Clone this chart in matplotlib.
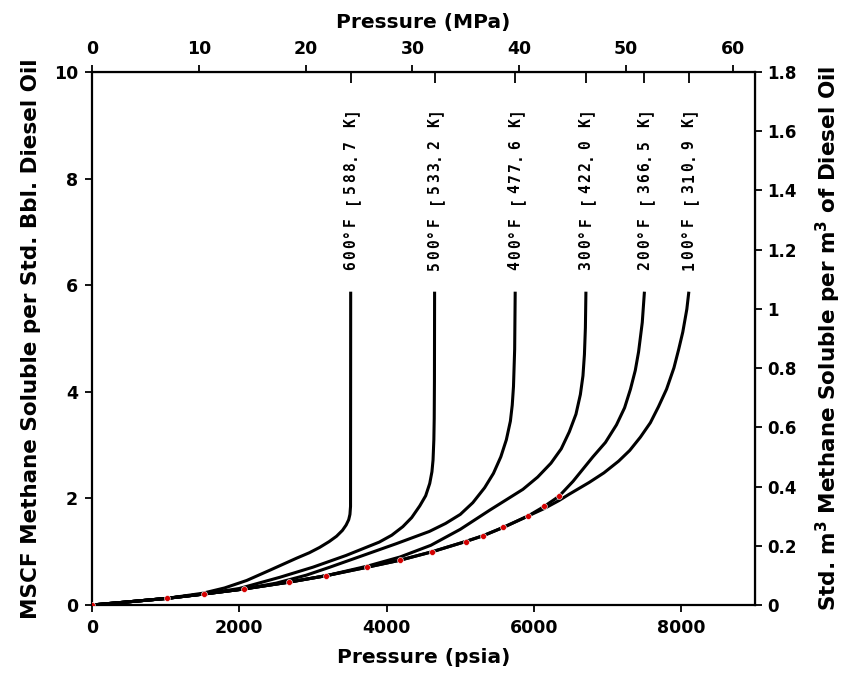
import matplotlib
matplotlib.use("Agg")
import matplotlib.pyplot as plt
import matplotlib.transforms as mtransforms

# curves: pressure (psia) vs MSCF methane per bbl
p_100 = [0, 500, 1020, 1520, 2060, 2680, 3180, 3740, 4180, 4620, 5070, 5310, 5590, 5920,
         6140, 6340, 6480, 6750, 6950, 7150, 7300, 7445, 7580, 7690, 7800, 7900, 7965,
         8020, 8075, 8100]
v_100 = [0, 0.06, 0.125, 0.206, 0.30, 0.43, 0.55, 0.71, 0.84, 1.0, 1.19, 1.30, 1.46, 1.67,
         1.81, 1.96, 2.08, 2.30, 2.48, 2.70, 2.90, 3.15, 3.42, 3.72, 4.05, 4.45, 4.80,
         5.12, 5.55, 5.85]

p_200 = [0, 500, 1020, 1520, 2060, 2680, 3180, 3740, 4180, 4620, 5070, 5310, 5590, 5920,
         6140, 6340, 6530, 6800, 6970, 7120, 7230, 7310, 7375, 7420, 7470, 7498]
v_200 = [0, 0.06, 0.125, 0.206, 0.30, 0.43, 0.55, 0.71, 0.84, 1.0, 1.19, 1.30, 1.46, 1.67,
         1.85, 2.04, 2.32, 2.78, 3.05, 3.38, 3.70, 4.05, 4.40, 4.75, 5.30, 5.85]

p_300 = [0, 500, 1020, 1520, 2060, 2680, 3180, 3740, 4180, 4600, 5000, 5400, 5850, 6050,
         6230, 6370, 6480, 6570, 6630, 6665, 6685, 6698, 6705]
v_300 = [0, 0.06, 0.125, 0.206, 0.30, 0.43, 0.55, 0.73, 0.90, 1.12, 1.42, 1.78, 2.17, 2.40,
         2.66, 2.93, 3.25, 3.58, 3.95, 4.30, 4.70, 5.20, 5.85]

p_400 = [0, 500, 1020, 1520, 2060, 2500, 2910, 3230, 3680, 4130, 4580, 4800, 5000, 5170,
         5330, 5450, 5550, 5625, 5680, 5705, 5722, 5738, 5745]
v_400 = [0, 0.06, 0.125, 0.206, 0.30, 0.41, 0.56, 0.71, 0.93, 1.15, 1.38, 1.53, 1.70, 1.92,
         2.20, 2.47, 2.78, 3.10, 3.45, 3.75, 4.10, 4.80, 5.85]

p_500 = [0, 500, 1020, 1520, 2000, 2550, 3000, 3450, 3900, 4070, 4220, 4340, 4450, 4530,
         4585, 4615, 4630, 4641, 4646, 4649, 4651]
v_500 = [0, 0.06, 0.125, 0.206, 0.31, 0.52, 0.71, 0.93, 1.18, 1.31, 1.47, 1.64, 1.86, 2.05,
         2.28, 2.50, 2.72, 3.10, 3.50, 4.20, 5.85]

p_600 = [0, 500, 1020, 1500, 1800, 2100, 2410, 2780, 2950, 3090, 3220, 3320, 3400, 3450,
         3485, 3502, 3510, 3512]
v_600 = [0, 0.06, 0.125, 0.22, 0.32, 0.46, 0.65, 0.88, 0.98, 1.08, 1.19, 1.29, 1.40, 1.50,
         1.60, 1.70, 1.85, 5.85]

curve_labels = ["600°F [588.7 K]", "500°F [533.2 K]", "400°F [477.6 K]",
                "300°F [422.0 K]", "200°F [366.5 K]", "100°F [310.9 K]"]

# red measured points
pts_p = [0, 1021, 1523, 2061, 2676, 3182, 3738, 4176, 4619, 5071, 5306, 5586, 5916, 6138, 6336]
pts_v = [0, 0.125, 0.206, 0.30, 0.43, 0.55, 0.71, 0.84, 1.0, 1.19, 1.30, 1.46, 1.67, 1.85, 2.04]

psi_ticks = [0, 2000, 4000, 6000, 8000]
mpa_ticks = [0, 10, 20, 30, 40, 50, 60]
left_ticks = [0, 2, 4, 6, 8, 10]
right_ticks = [0, 0.2, 0.4, 0.6, 0.8, 1.0, 1.2, 1.4, 1.6, 1.8]
right_labels = ["0", "0.2", "0.4", "0.6", "0.8", "1", "1.2", "1.4", "1.6", "1.8"]

PSI_TO_MPA = 0.00689476
M3_PER_MSCF = 0.18

plt.rcParams['font.family'] = 'DejaVu Sans'
plt.rcParams['font.weight'] = 'bold'
plt.rcParams['axes.labelweight'] = 'bold'

fig = plt.figure(figsize=(8.46, 6.75), dpi=100)
ax = fig.add_axes([0.1087, 0.1037, 0.7837, 0.7896])

curves = [(p_600, v_600), (p_500, v_500), (p_400, v_400),
          (p_300, v_300), (p_200, v_200), (p_100, v_100)]
for p, v in curves:
    ax.plot(p, v, color='black', lw=2.2, solid_joinstyle='round')

ax.scatter(pts_p, pts_v, s=18, color='#d40000', edgecolors='white', linewidths=0.4, zorder=5)

# labels written letter by letter above each curve (spaced like the typewriter text)
for (p, v), lab in zip(curves, curve_labels):
    for i, ch in enumerate(lab):
        tr = mtransforms.offset_copy(ax.transData, fig=fig, x=0, y=i * 11, units='dots')
        ax.text(p[-1], 6.36, ch, transform=tr, rotation=90, ha='center', va='center',
                family='DejaVu Sans Mono', fontweight='bold', fontsize=10.5)

ax.set_xlim(0, 9000)
ax.set_ylim(0, 10)
ax.set_xticks(psi_ticks)
ax.set_yticks(left_ticks)
ax.tick_params(direction='out', length=5, width=1.3, labelsize=12.5, pad=5)
for s in ax.spines.values():
    s.set_linewidth(1.6)

ax.set_xlabel('Pressure (psia)', fontsize=14.5, labelpad=8)
ax.set_ylabel('MSCF Methane Soluble per Std. Bbl. Diesel Oil', fontsize=15.5, labelpad=9)

top = ax.secondary_xaxis('top', functions=(lambda x: x * PSI_TO_MPA, lambda m: m / PSI_TO_MPA))
top.set_xticks(mpa_ticks)
top.set_xticks([p[-1] * PSI_TO_MPA for p, v in curves], minor=True)
top.tick_params(which='major', direction='out', length=5, width=1.3, labelsize=12.5, pad=5)
top.tick_params(which='minor', direction='in', length=8, width=1.3)
top.set_xlabel('Pressure (MPa)', fontsize=14.5, labelpad=9)

right = ax.secondary_yaxis('right', functions=(lambda y: y * M3_PER_MSCF, lambda m: m / M3_PER_MSCF))
right.set_yticks(right_ticks)
right.set_yticklabels(right_labels)
right.tick_params(direction='out', length=5, width=1.3, labelsize=12, pad=4)
right.set_ylabel('Std. m$^3$ Methane Soluble per m$^3$ of Diesel Oil', fontsize=15.5,
                 rotation=90, labelpad=12)

plt.savefig('out.png', dpi=100)
